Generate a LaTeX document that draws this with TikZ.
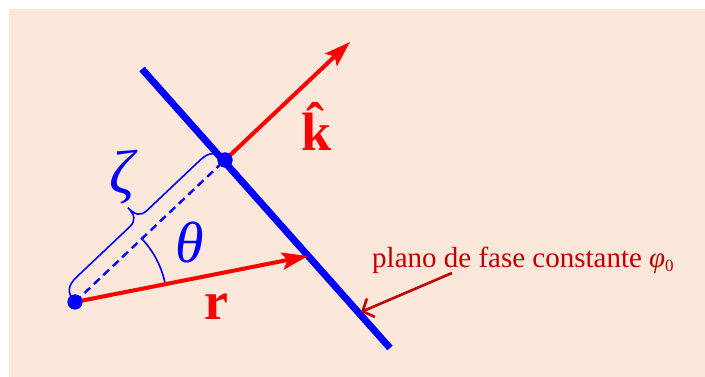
\documentclass[tikz,border=0pt]{standalone}
\usepackage{fontspec}
\setmainfont{Liberation Serif}
\usetikzlibrary{arrows.meta,calc}
\definecolor{peach}{RGB}{252,232,218}
\definecolor{annot}{RGB}{192,0,0}
\begin{document}
\begin{tikzpicture}[x=1pt,y=1pt,
  plane/.style={blue,line width=7pt},
  vec/.style={red,line width=4pt,-{Stealth[length=26pt,width=17pt,inset=5pt]}},
  dot/.style={circle,fill=blue,inner sep=0pt,minimum size=15pt},
  thin blue/.style={blue,line width=1.6pt},
  note/.style={annot,line width=2.6pt,-{Straight Barb[length=9pt,width=20pt]}}]
\useasboundingbox (0,0) rectangle (705,377);
\fill[peach] (9,0) rectangle (705,368);
% plane
\coordinate (P1) at (142,308);
\coordinate (P2) at (390,29);
\draw[plane] (P1) -- (P2);
% points
\node[dot] (O) at (75,75) {};
\node[dot] (K) at (225,217) {};
\coordinate (Ktip) at (350,335);
\coordinate (Rtip) at (308,121);
% dashed line
\draw[blue,line width=2.4pt,dash pattern=on 8pt off 5pt] (O.center) -- (K.center);
% brace
\begin{scope}[shift={(O.center)},rotate=43.43]
\draw[thin blue] (0,0) .. controls (0,12) and (6,17) .. (18,17)
  -- (91.3,17) .. controls (100.3,17) and (103.3,22) .. (103.3,32)
  .. controls (103.3,22) and (106.3,17) .. (115.3,17)
  -- (188.6,17) .. controls (200.6,17) and (206.6,12) .. (206.6,0);
\end{scope}
% angle arc
\draw[thin blue] ([shift={(11.17:92)}]O.center) arc[start angle=11.17,end angle=43.43,radius=92];
% vectors
\draw[vec] (K.center) -- (Ktip);
\draw[vec] (O.center) -- (Rtip);
\node[dot] at (O.center) {};
\node[dot] at (K.center) {};
% labels
\node[red,anchor=base,font=\fontsize{54}{60}\selectfont\bfseries] (klab) at (317,226) {\^{k}};
\node[red,anchor=base,font=\fontsize{54}{60}\selectfont\bfseries] (rlab) at (216,57) {r};
\node[blue,anchor=base,font=\fontsize{58}{64}\selectfont\itshape] (th) at (190,114) {θ};
\node[blue,anchor=base,font=\fontsize{62}{68}\selectfont\itshape] (ze) at (122,183) {ζ};
% annotation
\node[annot,anchor=base west,inner sep=0pt,font=\fontsize{29}{33}\selectfont] (txt) at (372,109) {plano de fase constante \textit{φ}\raisebox{-4pt}{\fontsize{17}{20}\selectfont 0}};
\coordinate (A0) at (452,104);
\coordinate (A1) at (361,65);
\draw[note] (A0) -- (A1);
\end{tikzpicture}
\end{document}
